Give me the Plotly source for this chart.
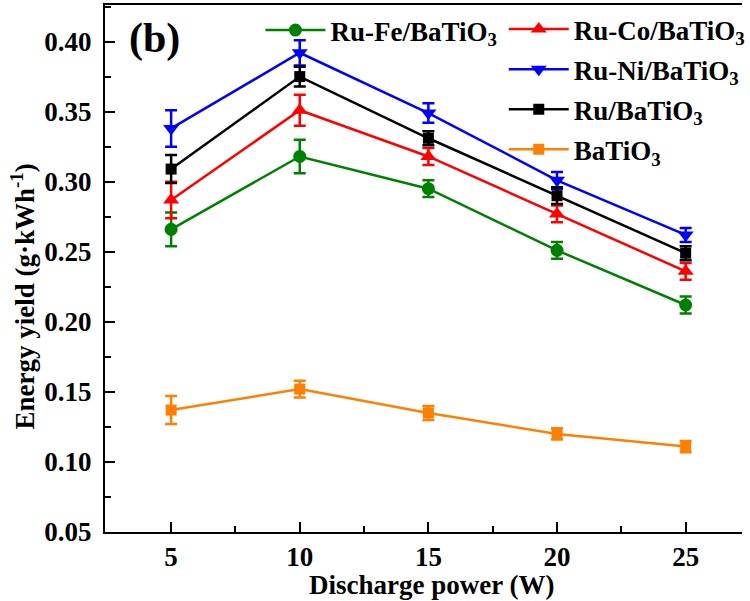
import plotly.graph_objects as go

power = [5, 10, 15, 20, 25]
ru_fe = [0.266, 0.318, 0.295, 0.251, 0.212]
ru_fe_err = [0.012, 0.012, 0.006, 0.006, 0.006]
ru_co = [0.287, 0.351, 0.318, 0.277, 0.236]
ru_co_err = [0.013, 0.011, 0.006, 0.006, 0.006]
ru_ni = [0.338, 0.392, 0.349, 0.301, 0.262]
ru_ni_err = [0.013, 0.009, 0.007, 0.006, 0.005]
ru = [0.309, 0.375, 0.331, 0.290, 0.249]
ru_err = [0.010, 0.007, 0.005, 0.006, 0.005]
batio3 = [0.137, 0.152, 0.135, 0.120, 0.111]
batio3_err = [0.010, 0.006, 0.005, 0.004, 0.004]

FONT = "Liberation Serif"

series = [
    ("Ru-Fe/BaTiO<sub>3</sub>", ru_fe, ru_fe_err, "#008000", "circle", 13, "legend"),
    ("Ru-Co/BaTiO<sub>3</sub>", ru_co, ru_co_err, "#ff0000", "triangle-up", 14, "legend2"),
    ("Ru-Ni/BaTiO<sub>3</sub>", ru_ni, ru_ni_err, "#0000ff", "triangle-down", 14, "legend2"),
    ("Ru/BaTiO<sub>3</sub>", ru, ru_err, "#000000", "square", 11, "legend2"),
    ("BaTiO<sub>3</sub>", batio3, batio3_err, "#ff8000", "square", 11, "legend2"),
]

fig = go.Figure()
for i, (name, vals, errs, color, sym, size, leg) in enumerate(series):
    fig.add_trace(go.Scatter(
        x=power, y=vals, name=name, mode="lines+markers",
        line=dict(color=color, width=2.5),
        marker=dict(symbol=sym, size=size, color=color),
        error_y=dict(type="data", array=errs, visible=True, color=color,
                     thickness=2.5, width=6),
        legend=leg, legendgroup=f"g{i}", showlegend=True,
    ))

fig.update_layout(
    width=750, height=601,
    margin=dict(l=105, r=0, t=5, b=69),
    paper_bgcolor="white", plot_bgcolor="white",
    font=dict(family=FONT, color="black"),
    xaxis=dict(
        range=[2.43, 27.19], tickmode="array", tickvals=power,
        ticks="inside", ticklen=10, tickwidth=2, tickcolor="black",
        minor=dict(tickmode="array", tickvals=[7.5, 12.5, 17.5, 22.5],
                   ticks="inside", ticklen=6, tickwidth=2, tickcolor="black"),
        showline=True, linecolor="black", linewidth=2, mirror=True,
        showgrid=False, zeroline=False, automargin=False,
        tickfont=dict(family=FONT, size=27, color="black", weight="bold"),
    ),
    yaxis=dict(
        range=[0.05, 0.4261], tickmode="linear", tick0=0.05, dtick=0.05,
        tickformat=".2f",
        ticks="inside", ticklen=10, tickwidth=2, tickcolor="black",
        minor=dict(dtick=0.025, ticks="inside", ticklen=6, tickwidth=2, tickcolor="black"),
        showline=True, linecolor="black", linewidth=2,
        showgrid=False, zeroline=False, automargin=False,
        tickfont=dict(family=FONT, size=27, color="black", weight="bold"),
        ticklabelstandoff=6,
    ),
    legend=dict(
        x=0.244, y=0.998, xanchor="left", yanchor="top", orientation="v",
        font=dict(family=FONT, size=27, color="black", weight="bold"), bgcolor="rgba(0,0,0,0)",
        itemwidth=60, tracegroupgap=0,
    ),
    legend2=dict(
        x=0.626, y=1.0, xanchor="left", yanchor="top", orientation="v",
        font=dict(family=FONT, size=27, color="black", weight="bold"), bgcolor="rgba(0,0,0,0)",
        itemwidth=60, tracegroupgap=2,
    ),
    showlegend=True,
)

fig.add_annotation(
    text="(b)", xref="paper", yref="paper", x=0.034, y=0.985,
    xanchor="left", yanchor="top", showarrow=False,
    font=dict(family=FONT, size=42, color="black", weight="bold"),
)
fig.add_annotation(
    text="Discharge power (W)", xref="paper", yref="paper", x=0.513, y=-0.1004,
    xanchor="center", yanchor="middle", showarrow=False,
    font=dict(family=FONT, size=27, color="black", weight="bold"),
)
fig.add_annotation(
    text="Energy yield (g·kWh<sup>-1</sup>)", xref="paper", yref="paper", x=-0.1287, y=0.447,
    xanchor="center", yanchor="middle", showarrow=False, textangle=-90,
    font=dict(family=FONT, size=27, color="black", weight="bold"),
)

fig.write_html("out.html", post_script="document.body.style.margin='0px';",
               config={"displayModeBar": False})
